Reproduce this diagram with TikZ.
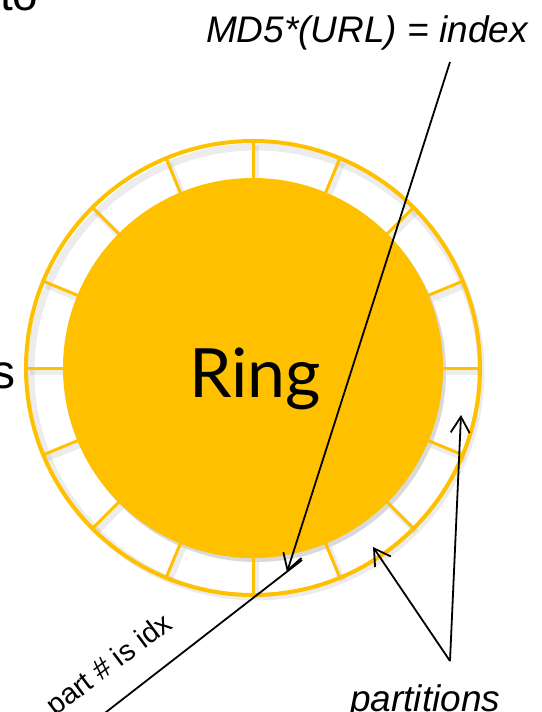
\documentclass[tikz,border=0pt]{standalone}
\usepackage{fontspec}
\setmainfont{Liberation Sans}
\newfontfamily\ringfont{Lato}
\usetikzlibrary{arrows.meta,shadows}
\definecolor{ringgold}{HTML}{FFC000}

\begin{document}
\begin{tikzpicture}[x=1pt, y=-1pt, >={Straight Barb[length=16pt,width=19pt]},
	ptr/.style={->, line width=1.8pt},
	lbl/.style={font=\fontsize{37}{40}\selectfont\itshape, inner sep=0pt},
	spoke/.style={ringgold, line width=3pt}]
	\useasboundingbox (0,0) rectangle (541,712);
	% ends of words cut off by the slide
	\node[font=\fontsize{46}{50}\selectfont, anchor=base west, inner sep=0pt] (to) at (0,10) {to};
	\node[font=\fontsize{48}{52}\selectfont, anchor=base east, inner sep=0pt] (s) at (16,388) {s};
	% soft shadow of the ring
	\begin{scope}[shift={(256,372)}, gray, opacity=.15]
		\draw[line width=7pt] (0,0) circle (225);
		\foreach \a in {0,22.5,...,337.5} {
			\draw[line width=6pt] (\a:190) -- (\a:226);
		}
	\end{scope}
	% the ring
	\node[circle, fill=ringgold, minimum size=380pt, inner sep=0pt,
		drop shadow={shadow xshift=3pt, shadow yshift=-4pt, opacity=.3}] (disk) at (253,368) {};
	\begin{scope}[shift={(253,368)}]
		\foreach \a in {0,22.5,...,337.5} {
			\draw[spoke] (\a:188) -- (\a:227);
		}
		\draw[ringgold, line width=4pt] (0,0) circle (227);
	\end{scope}
	\node[font=\ringfont\fontsize{68}{72}\selectfont, anchor=base, inner sep=0pt] (ring) at (255,397) {Ring};
	% labels
	\node[lbl, anchor=base east] (md5) at (528,42) {MD5*(URL) = index};
	\node[lbl, anchor=base west] (parts) at (350,711) {partitions};
	\node[font=\fontsize{29}{32}\selectfont, rotate=37, inner sep=0pt] (idx) at (110,666) {part \# is idx};
	% pointers
	\coordinate (md5foot) at (450,62);
	\coordinate (hashtip) at (287,572);
	\coordinate (partend) at (302,560);
	\coordinate (partfar) at (92,723);
	\coordinate (fork) at (450,661);
	\coordinate (tipA) at (373,547);
	\coordinate (tipB) at (461,415);
	\draw[ptr] (md5foot) -- (hashtip);
	\draw[line width=1.8pt] (partend) -- (partfar);
	\draw[ptr] (fork) -- (tipA);
	\draw[ptr] (fork) -- (tipB);
\end{tikzpicture}
\end{document}
